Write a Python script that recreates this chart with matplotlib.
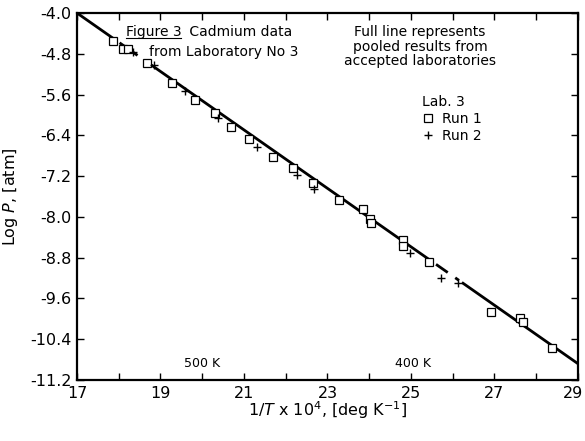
"""Cadmium vapour pressure data from laboratory No 3 against the pooled line."""

import matplotlib

matplotlib.use("Agg")
import matplotlib.pyplot as plt
from matplotlib.ticker import FixedLocator, MultipleLocator
from matplotlib.transforms import ScaledTranslation
import numpy as np

# ------------------------------------------------------------
# Data: 1/T x 10^4 [deg K^-1] and log P [atm]
# ------------------------------------------------------------
run1_x = [17.86, 18.10, 18.22, 18.68, 19.28, 19.83, 20.31, 20.69, 21.12, 21.69,
          22.17, 22.65, 23.28, 23.85, 24.02, 24.04, 24.81, 24.81, 25.43, 26.92,
          27.61, 27.68, 28.38]
run1_y = [-4.55, -4.71, -4.71, -4.98, -5.37, -5.71, -5.96, -6.24, -6.47, -6.82,
          -7.04, -7.33, -7.66, -7.84, -8.04, -8.12, -8.45, -8.57, -8.88, -9.86,
          -9.98, -10.06, -10.57]

run2_x = [18.34, 18.84, 19.59, 20.38, 21.31, 22.27, 22.68, 24.98, 25.72, 26.13]
run2_y = [-4.76, -5.02, -5.53, -6.06, -6.63, -7.18, -7.45, -8.71, -9.20, -9.29]

# pooled results from accepted laboratories (straight line end points)
pooled_x = [17.0, 29.0]
pooled_y = [-4.0, -10.88]

x_ticklabels = [17, 19, 21, 23, 25, 27, 29]
y_ticks = [-4.0, -4.8, -5.6, -6.4, -7.2, -8.0, -8.8, -9.6, -10.4, -11.2]

# breaks left in the hand-drawn pooled line (x ranges)
line_breaks = [(17.86, 18.02), (18.45, 18.78), (25.45, 25.6), (25.88, 26.06),
               (26.15, 26.22)]

plt.rcParams["font.family"] = ["DejaVu Sans"]
plt.rcParams["axes.unicode_minus"] = False

fig = plt.figure(figsize=(5.85, 4.41), dpi=100)
ax = fig.add_axes([0.1316, 0.1383, 0.8564, 0.8322])

# pooled line, drawn piecewise between the breaks
slope = (pooled_y[1] - pooled_y[0]) / (pooled_x[1] - pooled_x[0])
edges = [pooled_x[0]]
for a, b in line_breaks:
    edges += [a, b]
edges.append(pooled_x[1])
for x0, x1 in zip(edges[::2], edges[1::2]):
    seg_x = np.array([x0, x1])
    ax.plot(seg_x, pooled_y[0] + slope * (seg_x - pooled_x[0]), color="black",
            lw=2.0, solid_capstyle="butt", zorder=2)

ax.plot(run1_x, run1_y, ls="none", marker="s", ms=5.2, mfc="white", mec="black",
        mew=0.9, zorder=3, label="Run 1")
ax.plot(run2_x, run2_y, ls="none", marker="+", ms=5.5, color="black", mew=1.0,
        zorder=3, label="Run 2")

ax.set_xlim(17, 29)
ax.set_ylim(-11.2, -4.0)

ax.xaxis.set_major_locator(FixedLocator(x_ticklabels))
ax.xaxis.set_minor_locator(MultipleLocator(1))
ax.yaxis.set_major_locator(FixedLocator(y_ticks))
ax.set_yticklabels([f"{v:.1f}" for v in y_ticks])

ax.tick_params(which="both", direction="in", top=True, right=True,
               width=1.0, labelsize=11.5)
ax.tick_params(which="major", length=5, pad=4)
ax.tick_params(which="minor", length=5)
for side in ax.spines.values():
    side.set_linewidth(1.6)

# keep the last x label inside the canvas
last = ax.get_xticklabels()[-1]
last.set_transform(last.get_transform() + ScaledTranslation(-5 / 100, 0, fig.dpi_scale_trans))

ax.set_xlabel(r"1/$T$ x 10$^4$, [deg K$^{-1}$]", fontsize=11.5, labelpad=-1)
ax.set_ylabel(r"Log $P$, [atm]", fontsize=11.5, labelpad=7)

# title block, "Figure 3" underlined
fig_lbl = ax.text(0.097, 0.967, "Figure 3", transform=ax.transAxes,
                  ha="left", va="top", fontsize=10)
ax.text(0.215, 0.967, " Cadmium data", transform=ax.transAxes,
        ha="left", va="top", fontsize=10)
ax.text(0.293, 0.912, "from Laboratory No 3", transform=ax.transAxes,
        ha="center", va="top", fontsize=10)

fig.canvas.draw()
bb = fig_lbl.get_window_extent().transformed(ax.transAxes.inverted())
ax.plot([bb.x0, bb.x1], [bb.y0 + 0.004, bb.y0 + 0.004], color="black", lw=0.8,
        transform=ax.transAxes)

ax.text(0.685, 0.967, "Full line represents\npooled results from\naccepted laboratories",
        transform=ax.transAxes, ha="center", va="top", fontsize=10, linespacing=1.05)

leg = ax.legend(title="Lab. 3", loc="upper left", bbox_to_anchor=(0.675, 0.795),
                frameon=False, fontsize=10, title_fontsize=10, handlelength=0.8,
                handletextpad=0.6, labelspacing=0.2, borderpad=0.0)
leg._legend_box.align = "left"

ax.text(20.0, -10.95, "500 K", ha="center", va="baseline", fontsize=9)
ax.text(25.05, -10.95, "400 K", ha="center", va="baseline", fontsize=9)

fig.savefig("out.png", dpi=100)
